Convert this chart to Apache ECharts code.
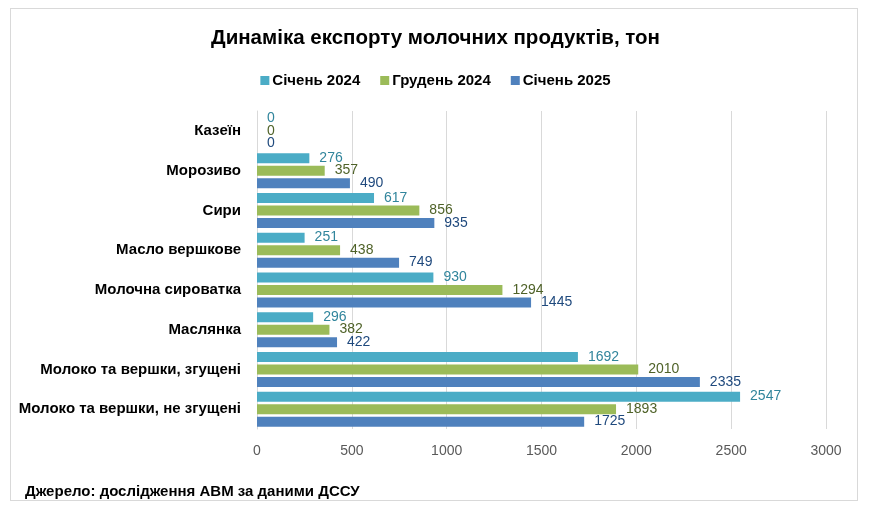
<!DOCTYPE html>
<html>
<head>
<meta charset="utf-8">
<script src="https://cdn.jsdelivr.net/npm/echarts@6/dist/echarts.min.js"></script>
<style>
html,body{margin:0;padding:0;background:#fff;}
#frame{position:absolute;left:10px;top:8px;width:848px;height:493px;border:1px solid #D9D9D9;box-sizing:border-box;}
#chart{position:absolute;left:0;top:0;width:871px;height:508px;}
</style>
</head>
<body>
<div id="frame"></div>
<div id="chart"></div>
<script>
const categories = ['Казеїн','Морозиво','Сири','Масло вершкове','Молочна сироватка','Маслянка','Молоко та вершки, згущені','Молоко та вершки, не згущені'];
const seriesNames = ['Січень 2024','Грудень 2024','Січень 2025'];
const jan2024 = [0,276,617,251,930,296,1692,2547];
const dec2024 = [0,357,856,438,1294,382,2010,1893];
const jan2025 = [0,490,935,749,1445,422,2335,1725];
const xTicks = [0,500,1000,1500,2000,2500,3000];

const colors = ['#4BACC6','#9BBB59','#4F81BD'];
const labelColors = ['#31859C','#4F6228','#1F497D'];
const FONT = 'Liberation Sans, Arial, sans-serif';
const values = [jan2024, dec2024, jan2025];

const chart = echarts.init(document.getElementById('chart'), null, {renderer:'canvas'});
chart.setOption({
  animation:false,
  textStyle:{fontFamily:FONT},
  title:{
    text:'Динаміка експорту молочних продуктів, тон',
    left:'center', top:23,
    textStyle:{fontFamily:FONT,fontSize:20.5,fontWeight:'bold',color:'#000'}
  },
  legend:{
    data:seriesNames, top:68, left:'center',
    itemWidth:9, itemHeight:9, itemGap:20,
    icon:'rect',
    textStyle:{fontFamily:FONT,fontSize:15,fontWeight:'bold',color:'#000',padding:[0,0,0,-2]}
  },
  grid:{left:257,right:45,top:111,height:318,containLabel:false},
  xAxis:{
    type:'value', min:xTicks[0], max:xTicks[xTicks.length-1], interval:500,
    axisLine:{show:false}, axisTick:{show:false},
    splitLine:{lineStyle:{color:'#D9D9D9'}},
    axisLabel:{color:'#595959',fontFamily:FONT,fontSize:14,margin:15,formatter:v=>String(v)}
  },
  yAxis:{
    type:'category', data:categories, inverse:true,
    axisLine:{show:true,lineStyle:{color:'#D9D9D9'}}, axisTick:{show:false},
    axisLabel:{color:'#000',fontFamily:FONT,fontSize:15,fontWeight:'bold',margin:16}
  },
  series: seriesNames.map((n,i)=>({
    name:n, type:'bar', data:values[i], barWidth:10, barGap:'25%',
    itemStyle:{color:colors[i]},
    label:{show:true,position:'right',distance:10,color:labelColors[i],fontFamily:FONT,fontSize:14}
  })),
  graphic:[{
    type:'text', left:25, top:484,
    style:{text:'Джерело: дослідження АВМ за даними ДССУ',fontFamily:FONT,fontSize:15,fontWeight:'bold',fill:'#000'}
  }]
});
</script>
</body>
</html>
